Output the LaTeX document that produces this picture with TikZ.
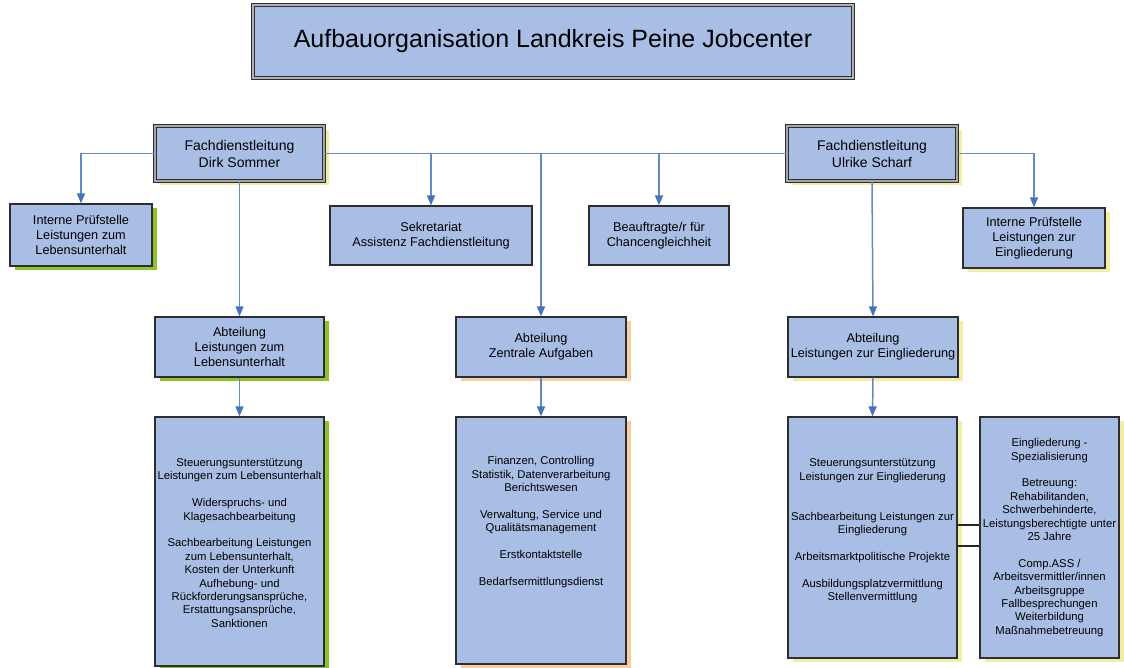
\documentclass[tikz,border=0pt]{standalone}
\usepackage{fontspec}
\setmainfont{Liberation Sans}
\usetikzlibrary{shadows,arrows.meta}
\definecolor{boxblue}{RGB}{168,190,228}
\definecolor{boxline}{RGB}{45,45,50}
\definecolor{linkblue}{RGB}{100,138,195}
\definecolor{arrowblue}{RGB}{70,115,185}
\definecolor{shgreen}{RGB}{140,195,40}
\definecolor{shyellow}{RGB}{242,238,165}
\definecolor{shorange}{RGB}{248,205,160}
\tikzset{
  box/.style={draw=boxline, fill=boxblue, line width=1.2pt, rectangle, align=center, inner sep=2pt},
  hdr/.style={box, font=\fontsize{12.7pt}{15pt}\selectfont},
  fdl/.style={box, line width=1.1pt, double=black!35, double distance=1.5pt, font=\fontsize{14pt}{17pt}\selectfont},
  titlebox/.style={box, line width=0.9pt, double=black!30, double distance=1.5pt, font=\fontsize{25pt}{30pt}\selectfont},
  listbox/.style={box},
  listtext/.style={align=center, inner sep=0pt, font=\fontsize{11.3pt}{13.4pt}\selectfont},
  shg/.style={drop shadow={shadow xshift=5pt, shadow yshift=-4pt, fill=shgreen, opacity=1}},
  shy/.style={drop shadow={shadow xshift=5pt, shadow yshift=-4pt, fill=shyellow, opacity=1}},
  sho/.style={drop shadow={shadow xshift=5pt, shadow yshift=-4pt, fill=shorange, opacity=1}},
  link/.style={draw=linkblue, line width=1.5pt},
  arr/.style={link, -{Triangle[length=10pt,width=8pt,color=arrowblue]}},
  bar/.style={draw=black!85, line width=1.1pt},
}
\begin{document}
\begin{tikzpicture}[x=1pt,y=-1pt]
\useasboundingbox (0,0) rectangle (1124,668);
\fill[white] (0,0) rectangle (1124,668);

\node[titlebox, minimum width=600pt, minimum height=73pt] (title) at (553,41.5) {Aufbauorganisation Landkreis Peine Jobcenter};

\node[fdl, shy, minimum width=169pt, minimum height=55pt] (dirk) at (239.5,153.5) {Fachdienstleitung\\Dirk Sommer};
\node[fdl, shy, minimum width=170pt, minimum height=55pt] (ulrike) at (872,153.5) {Fachdienstleitung\\Ulrike Scharf};

\node[hdr, shg, minimum width=142pt, minimum height=62pt] (ipl) at (81,235) {Interne Prüfstelle\\Leistungen zum\\Lebensunterhalt};
\node[hdr, minimum width=202pt, minimum height=59pt] (sek) at (431,235.5) {Sekretariat\\Assistenz Fachdienstleitung};
\node[hdr, minimum width=140pt, minimum height=59pt] (beauf) at (659,235.5) {Beauftragte/r für\\Chancengleichheit};
\node[hdr, shy, minimum width=142pt, minimum height=60pt] (ipr) at (1034,238) {Interne Prüfstelle\\Leistungen zur\\Eingliederung};

\node[hdr, shg, minimum width=169pt, minimum height=60pt] (alzl) at (239.5,347) {Abteilung\\Leistungen zum\\Lebensunterhalt};
\node[hdr, sho, minimum width=170pt, minimum height=60pt] (aza) at (541,347) {Abteilung\\Zentrale Aufgaben};
\node[hdr, shy, minimum width=170pt, minimum height=60pt] (alze) at (873,347) {Abteilung\\Leistungen zur Eingliederung};

\node[listbox, shg, minimum width=169pt, minimum height=249pt] (lzl) at (239.5,541.5) {};
\node[listbox, sho, minimum width=170pt, minimum height=247pt] (zal) at (541,540.5) {};
\node[listbox, shy, minimum width=169pt, minimum height=241pt] (lze) at (872.5,537.5) {};
\node[listbox, shy, minimum width=139pt, minimum height=241pt] (spez) at (1049.5,537.5) {};

\node[listtext] (lzlt) at (239.5,543) {Steuerungsunterstützung\\Leistungen zum Lebensunterhalt\\[13.4pt]Widerspruchs- und\\Klagesachbearbeitung\\[13.4pt]Sachbearbeitung Leistungen\\zum Lebensunterhalt,\\Kosten der Unterkunft\\Aufhebung- und\\Rückforderungsansprüche,\\Erstattungsansprüche,\\Sanktionen};
\node[listtext] (zalt) at (541,522) {Finanzen, Controlling\\Statistik, Datenverarbeitung\\Berichtswesen\\[13.4pt]Verwaltung, Service und\\Qualitätsmanagement\\[13.4pt]Erstkontaktstelle\\[13.4pt]Bedarfsermittlungsdienst};
\node[listtext] (lzet) at (872.5,531) {Steuerungsunterstützung\\Leistungen zur Eingliederung\\[26.8pt]Sachbearbeitung Leistungen zur\\Eingliederung\\[13.4pt]Arbeitsmarktpolitische Projekte\\[13.4pt]Ausbildungsplatzvermittlung\\Stellenvermittlung};
\node[listtext] (spezt) at (1049.5,537.5) {Eingliederung -\\Spezialisierung\\[13.4pt]Betreuung:\\Rehabilitanden,\\Schwerbehinderte,\\Leistungsberechtigte unter\\25 Jahre\\[13.4pt]Comp.ASS /\\Arbeitsvermittler/innen\\Arbeitsgruppe\\Fallbesprechungen\\Weiterbildung\\Maßnahmebetreuung};

\draw[arr] (dirk.west) -| (ipl.north);
\draw[link] (dirk.east) -- (ulrike.west);
\draw[arr] (sek.north |- dirk.east) -- (sek.north);
\draw[arr] (aza.north |- dirk.east) -- (aza.north);
\draw[arr] (beauf.north |- dirk.east) -- (beauf.north);
\draw[arr] (ulrike.east) -| (ipr.north);
\draw[arr] (dirk.south) -- (alzl.north);
\draw[arr] (ulrike.south) -- (alze.north);
\draw[arr] (alzl.south) -- (lzl.north);
\draw[arr] (aza.south) -- (zal.north);
\draw[arr] (alze.south) -- (lze.north);

\coordinate (ya) at (0,525);
\coordinate (yb) at (0,546);
\draw[bar] (lze.east |- ya) -- (spez.west |- ya);
\draw[bar] (lze.east |- yb) -- (spez.west |- yb);
\end{tikzpicture}
\end{document}
